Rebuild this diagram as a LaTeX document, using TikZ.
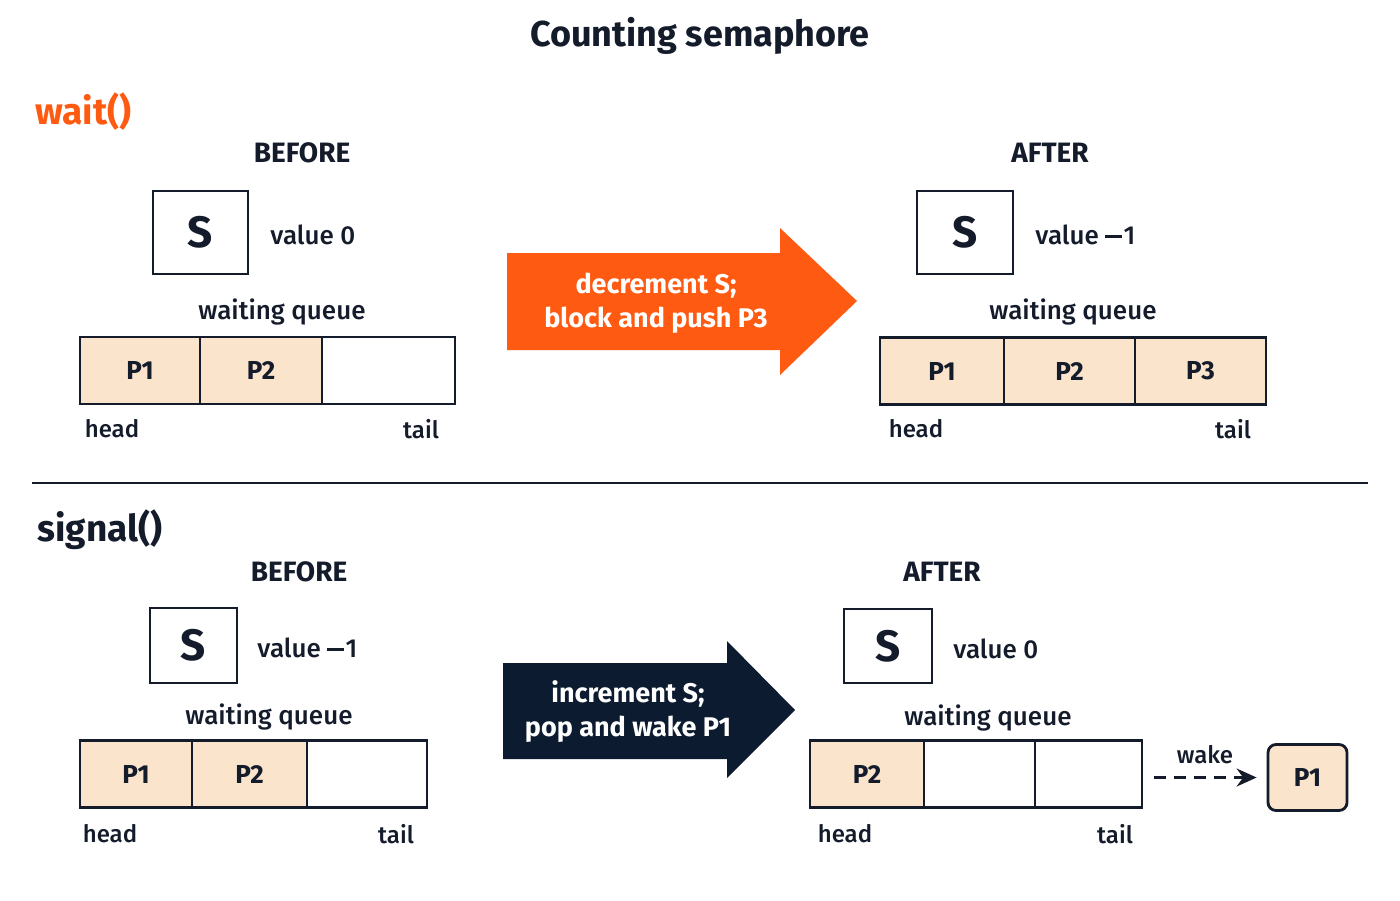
\documentclass[tikz,border=0pt]{standalone}
\usepackage{fontspec}
\setmainfont{Fira Sans}[UprightFont={* Medium},BoldFont={* Bold}]
\usepackage{xcolor}
\usepackage{tikz}
\usetikzlibrary{positioning,arrows.meta,calc}

\definecolor{ink}{HTML}{141B2B}
\definecolor{navy}{HTML}{0D1B30}
\definecolor{hot}{HTML}{FF5A12}
\definecolor{peach}{HTML}{FAE4CC}
\newcommand{\negsign}{\rule[0.27em]{0.62em}{0.085em}\kern0.08em}

\begin{document}
\begin{tikzpicture}[x=0.5pt,y=-0.5pt,
    txt/.style={text=ink,inner sep=0pt,font=\fontsize{13}{15}\selectfont},
    small/.style={text=ink,inner sep=0pt,font=\fontsize{12}{14}\selectfont},
    heading/.style={text=ink,inner sep=0pt,font=\bfseries\fontsize{14}{16}\selectfont},
    section/.style={anchor=west,inner sep=0pt,font=\bfseries\fontsize{18.5}{21}\selectfont},
    sbox/.style={draw=ink,line width=1.4pt,inner sep=0pt,font=\bfseries\fontsize{22}{24}\selectfont,text=ink},
    cell/.style={draw=ink,line width=1.4pt,inner sep=0pt,minimum height=33.5pt,font=\bfseries\fontsize{13}{15}\selectfont,text=ink},
    full/.style={cell,fill=peach},
    bigtxt/.style={text=white,inner sep=0pt,align=center,font=\bfseries\fontsize{13.5}{17}\selectfont}]
    \useasboundingbox (0,0) rectangle (1400,900);

    \node[text=ink,font=\bfseries\fontsize{18}{20}\selectfont] (title) at (700,36) {Counting semaphore};

    % wait() : before
    \node[section,text=hot] (wait) at (35,112) {wait()};
    \node[heading] (wb) at (302,153) {BEFORE};
    \node[sbox,minimum width=47.5pt,minimum height=41.5pt] (ws1) at (200.5,232.5) {S};
    \node[txt,anchor=west] (wv1) at (270,235) {value 0};
    \node[txt] (wq1) at (282,312) {waiting queue};
    \node[full,minimum width=60pt] (wa1) at (140,370.5) {P1};
    \node[full,minimum width=61pt] (wa2) at (261,370.5) {P2};
    \node[cell,minimum width=66.5pt] (wa3) at (388.5,370.5) {};
    \node[small] (wh1) at (112,429) {head};
    \node[small] (wt1) at (421,429) {tail};

    % wait() : arrow
    \fill[hot] (507,253) -- (780,253) -- (780,228) -- (857,301) -- (780,375) -- (780,350) -- (507,350) -- cycle;
    \node[bigtxt] (wdo) at (656,303) {decrement S;\\block and push P3};

    % wait() : after
    \node[heading] (wa) at (1050,153) {AFTER};
    \node[sbox,minimum width=48pt,minimum height=41.5pt] (ws2) at (965,232.5) {S};
    \node[txt,anchor=west] (wv2) at (1035,235) {value \negsign1};
    \node[txt] (wq2) at (1073,312) {waiting queue};
    \node[full,minimum width=62pt] (wb1) at (942,371) {P1};
    \node[full,minimum width=65.5pt] (wb2) at (1069.5,371) {P2};
    \node[full,minimum width=65.5pt] (wb3) at (1200.5,371) {P3};
    \node[small] (wh2) at (916,429) {head};
    \node[small] (wt2) at (1233,429) {tail};

    \draw[ink,line width=1.4pt] (32,483) -- (1368,483);

    % signal() : before
    \node[section,text=ink] (sig) at (37,530) {signal()};
    \node[heading] (sb) at (299,572) {BEFORE};
    \node[sbox,minimum width=43.5pt,minimum height=37.5pt] (ss1) at (193.5,645.5) {S};
    \node[txt,anchor=west] (sv1) at (257,648) {value \negsign1};
    \node[txt] (sq1) at (269,717) {waiting queue};
    \node[full,minimum width=56pt] (sa1) at (136,774) {P1};
    \node[full,minimum width=57.5pt] (sa2) at (249.5,774) {P2};
    \node[cell,minimum width=60pt] (sa3) at (367,774) {};
    \node[small] (sh1) at (110,834) {head};
    \node[small] (st1) at (396,834) {tail};

    % signal() : arrow
    \fill[navy] (503,663) -- (727,663) -- (727,641) -- (795,710) -- (727,778) -- (727,759) -- (503,759) -- cycle;
    \node[bigtxt] (sdo) at (628,712) {increment S;\\pop and wake P1};

    % signal() : after
    \node[heading] (sa) at (942,572) {AFTER};
    \node[sbox,minimum width=44pt,minimum height=37pt] (ss2) at (888,646) {S};
    \node[txt,anchor=west] (sv2) at (953,649) {value 0};
    \node[txt] (sq2) at (988,718) {waiting queue};
    \node[full,minimum width=57pt] (sb1) at (867,774) {P2};
    \node[cell,minimum width=55.5pt] (sb2) at (979.5,774) {};
    \node[cell,minimum width=53.5pt] (sb3) at (1088.5,774) {};
    \node[small] (sh2) at (845,834) {head};
    \node[small] (st2) at (1115,834) {tail};

    % woken process
    \node[draw=ink,line width=1.4pt,fill=peach,rounded corners=4pt,minimum width=39.5pt,minimum height=33pt,inner sep=0pt,text=ink,font=\bfseries\fontsize{13}{15}\selectfont] (pw) at (1307.5,777.5) {P1};
    \draw[ink,line width=1.2pt,dash pattern=on 6pt off 4pt,-{Stealth[length=10pt,width=9pt]},shorten <=5.5pt,shorten >=5pt] (sb3.east |- pw.west) -- (pw.west) node[midway,above=6pt,small] (wk) {wake};
\end{tikzpicture}
\end{document}
